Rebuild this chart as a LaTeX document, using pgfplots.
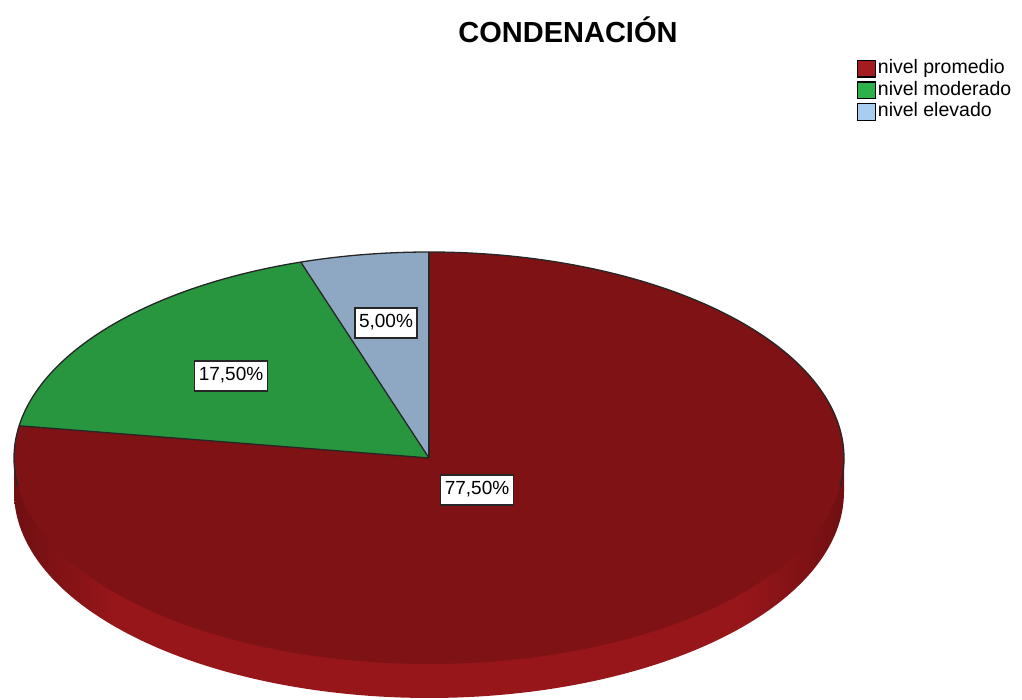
\documentclass[border=0pt]{standalone}
\usepackage{pgfplots}
\pgfplotsset{compat=1.18}
\usepackage{pgfplotstable}
\usepackage{fontspec}
\setmainfont{Liberation Sans}

\definecolor{pieRed}{RGB}{126,18,21}
\definecolor{pieGreen}{RGB}{40,150,62}
\definecolor{pieBlue}{RGB}{142,168,196}
\definecolor{sideRed}{RGB}{150,22,26}
\definecolor{sideDark}{RGB}{112,15,18}
\definecolor{legRed}{RGB}{165,28,32}
\definecolor{legGreen}{RGB}{45,178,75}
\definecolor{legBlue}{RGB}{168,205,238}

\pgfdeclarehorizontalshading{sideshade}{100bp}{color(0bp)=(sideDark); color(25bp)=(sideDark); color(31bp)=(sideRed); color(69bp)=(sideRed); color(75bp)=(sideDark); color(100bp)=(sideDark)}

\pgfplotstableread{
label value
promedio 77.5
moderado 17.5
elevado 5.0
}\piedata

\begin{document}
\begin{tikzpicture}
\pgfplotstablegetelem{0}{value}\of\piedata \let\vProm\pgfplotsretval
\pgfplotstablegetelem{1}{value}\of\piedata \let\vMod\pgfplotsretval
\pgfplotstablegetelem{2}{value}\of\piedata \let\vElev\pgfplotsretval
\pgfmathsetmacro{\aA}{90}
\pgfmathsetmacro{\aB}{\aA+3.6*\vElev}
\pgfmathsetmacro{\aC}{\aB+3.6*\vMod}
\pgfmathsetmacro{\aD}{\aC+3.6*\vProm}
\def\cx{429}\def\cy{242}\def\rx{415}\def\ry{206}\def\dep{34}
\begin{axis}[
  x=1pt, y=1pt, xmin=0, xmax=1022, ymin=0, ymax=700,
  hide axis, clip=false, scale only axis,
  legend image code/.code={\draw[#1, line width=1.4pt] (0pt,-8.3pt) rectangle (18pt,8.3pt);},
  legend style={at={(axis cs:857,642)}, anchor=north west, draw=none, fill=none,
    inner sep=0pt, outer sep=0pt, row sep=0pt,
    font=\fontsize{19.5}{19.5}\selectfont,
    cells={anchor=west},
    /tikz/every even column/.append style={column sep=4pt},
    nodes={text height=14pt, text depth=4pt, inner ysep=1.8pt, inner xsep=1.5pt}},
]
\path (axis cs:0,0) rectangle (axis cs:1022,700);
% side of the pie
\addplot[forget plot, draw=none, shading=sideshade, domain=180:360, samples=120, variable=\t]
  ({\cx+\rx*cos(\t)},{\cy-\dep+\ry*sin(\t)}) -- (axis cs:\cx+\rx,\cy) -- (axis cs:\cx-\rx,\cy) -- cycle;
% wedges
\addplot[forget plot, fill=pieBlue, draw=none, domain=\aA:\aB, samples=30, variable=\t]
  ({\cx+\rx*cos(\t)},{\cy+\ry*sin(\t)}) -- (axis cs:\cx,\cy) -- cycle;
\addplot[forget plot, fill=pieGreen, draw=none, domain=\aB:\aC, samples=60, variable=\t]
  ({\cx+\rx*cos(\t)},{\cy+\ry*sin(\t)}) -- (axis cs:\cx,\cy) -- cycle;
\addplot[forget plot, fill=pieRed, draw=none, domain=\aC:\aD, samples=240, variable=\t]
  ({\cx+\rx*cos(\t)},{\cy+\ry*sin(\t)}) -- (axis cs:\cx,\cy) -- cycle;
% rim and radial lines
\addplot[forget plot, draw=black!85, line width=1.3pt, domain=-8:188, samples=150, variable=\t]
  ({\cx+\rx*cos(\t)},{\cy+\ry*sin(\t)});
\addplot[forget plot, draw=black!85, line width=1.3pt]
  coordinates {(\cx,\cy)} -- (axis cs:{\cx+\rx*cos(\aA)},{\cy+\ry*sin(\aA)});
\addplot[forget plot, draw=black!85, line width=1.3pt]
  coordinates {(\cx,\cy)} -- (axis cs:{\cx+\rx*cos(\aB)},{\cy+\ry*sin(\aB)});
\addplot[forget plot, draw=black!85, line width=1.3pt]
  coordinates {(\cx,\cy)} -- (axis cs:{\cx+\rx*cos(\aC)},{\cy+\ry*sin(\aC)});
% labels
\tikzset{plab/.style={draw=black!85, line width=1.3pt, fill=white, inner xsep=4pt, inner ysep=6pt,
  text height=14pt, text depth=4pt, font=\fontsize{19}{19}\selectfont}}
\node[plab] at (axis cs:477,210) {77,50\%};
\node[plab] at (axis cs:231,324) {17,50\%};
\node[plab] at (axis cs:386,377) {5,00\%};
% title
\node[font=\bfseries\fontsize{29}{29}\selectfont] at (axis cs:568,670) {CONDENACIÓN};
% legend
\addlegendimage{fill=legRed, draw=black}
\addlegendentry{nivel promedio}
\addlegendimage{fill=legGreen, draw=black}
\addlegendentry{nivel moderado}
\addlegendimage{fill=legBlue, draw=black}
\addlegendentry{nivel elevado}
\end{axis}
\end{tikzpicture}
\end{document}
